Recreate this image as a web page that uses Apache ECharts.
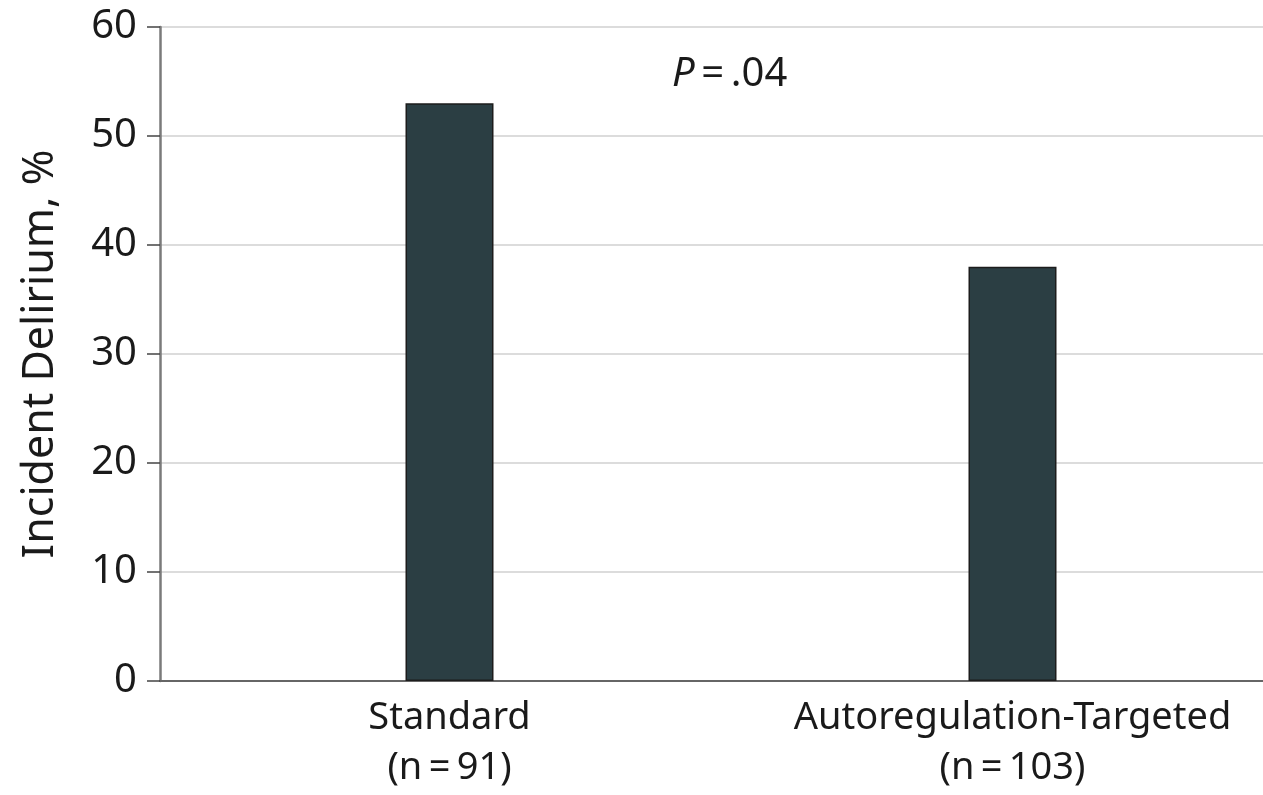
<!DOCTYPE html>
<html><head><meta charset="utf-8">
<script src="https://cdn.jsdelivr.net/npm/echarts@6/dist/echarts.min.js"></script>
<style>html,body{margin:0;padding:0;background:#fff}#c{width:1263px;height:795px}</style>
</head><body><div id="c"></div>
<script>
const categories = ['Standard\n(n\u2009=\u200991)', 'Autoregulation-Targeted\n(n\u2009=\u2009103)'];
const delirium = [53, 38];
const yTicks = {min: 0, max: 60, interval: 10};
const yName = 'Incident Delirium, %';
const pText = '.04';

const FONT = 'Noto Sans';
const chart = echarts.init(document.getElementById('c'), null, {renderer: 'canvas'});
chart.setOption({
  animation: false,
  backgroundColor: '#fff',
  textStyle: {fontFamily: FONT, color: '#1a1a1a'},
  grid: [
    {left: 160, width: 1134, top: 27, bottom: 114, outerBoundsMode: 'none', containLabel: false},
    {left: 168, width: 1126, top: 27, bottom: 114, outerBoundsMode: 'none', containLabel: false}
  ],
  xAxis: [
    {gridIndex: 0, type: 'category', data: categories, axisLine: {lineStyle: {color: '#666', width: 2}}, axisTick: {show: false}, axisLabel: {show: false}},
    {gridIndex: 1, type: 'category', data: categories, axisLine: {show: false}, axisTick: {show: false},
     axisLabel: {fontFamily: FONT, fontSize: 38, color: '#1a1a1a', lineHeight: 50, margin: 12, interval: 0, hideOverlap: false}}
  ],
  yAxis: [
    {gridIndex: 0, type: 'value', min: yTicks.min, max: yTicks.max, interval: yTicks.interval,
     name: yName, nameLocation: 'middle', nameGap: 98, nameRotate: 90,
     nameTextStyle: {fontFamily: FONT, fontSize: 43, color: '#1a1a1a'},
     axisLine: {show: true, lineStyle: {color: '#7a7a7a', width: 2.5}},
     axisTick: {show: true, length: 13, lineStyle: {color: '#444', width: 1.5}},
     axisLabel: {fontFamily: FONT, fontSize: 40, color: '#1a1a1a', margin: 23},
     splitLine: {lineStyle: {color: '#dcdcdc', width: 2}}},
    {gridIndex: 1, type: 'value', min: yTicks.min, max: yTicks.max, interval: yTicks.interval, show: false, splitLine: {show: false}}
  ],
  series: [{
    type: 'bar', xAxisIndex: 1, yAxisIndex: 1, data: delirium, barWidth: 88,
    itemStyle: {color: '#2b3e43', borderColor: '#1c1c1c', borderWidth: 1.5}
  }],
  graphic: [{
    type: 'text', left: 672, top: 55,
    style: {
      text: '{i|P}{n|\u2009=\u2009' + pText + '}',
      rich: {
        i: {fontFamily: FONT, fontSize: 40, fontStyle: 'italic', fill: '#1a1a1a'},
        n: {fontFamily: FONT, fontSize: 40, fill: '#1a1a1a'}
      }
    }
  }]
});
</script></body></html>
